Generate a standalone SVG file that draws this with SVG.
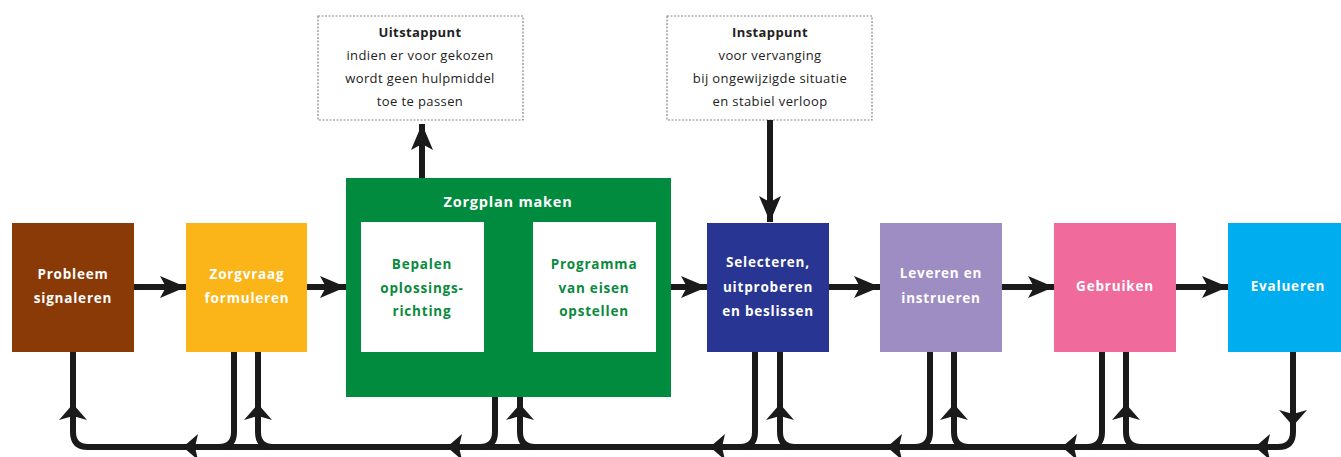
<svg xmlns="http://www.w3.org/2000/svg" width="1341" height="457" viewBox="0 0 1341 457">
<defs>
<style>
.lbl{font-family:"Open Sans","DejaVu Sans",sans-serif;font-weight:700;font-size:13.5px;fill:#fff;text-anchor:middle;letter-spacing:0.8px}
.glbl{font-family:"Open Sans","DejaVu Sans",sans-serif;font-weight:700;font-size:13.5px;fill:#0a8a3c;text-anchor:middle;letter-spacing:0.8px}
.note{font-family:"Open Sans","DejaVu Sans",sans-serif;font-size:13px;fill:#222;text-anchor:middle;letter-spacing:0.4px}
.noteb{font-family:"Open Sans","DejaVu Sans",sans-serif;font-size:13px;font-weight:700;fill:#222;text-anchor:middle;letter-spacing:0.4px}
.dash{fill:#fff;stroke:#888;stroke-width:1.2;stroke-dasharray:2 1.5}
.ln{fill:none;stroke:#1a1a1a;stroke-width:6}
.hd{fill:#1a1a1a}
</style>
<marker id="ah" markerUnits="userSpaceOnUse" markerWidth="26" markerHeight="22" refX="26" refY="11" orient="auto">
<path d="M0,0 L26,11 L0,22 L6,11 z" fill="#1a1a1a"/>
</marker>
</defs>

<g id="node-uitstappunt">
<rect class="dash" x="318" y="16" width="205" height="104"/>
<text class="noteb" x="420" y="37">Uitstappunt</text>
<text class="note" x="420" y="60">indien er voor gekozen</text>
<text class="note" x="420" y="83">wordt geen hulpmiddel</text>
<text class="note" x="420" y="106">toe te passen</text>
</g>

<g id="node-instappunt">
<rect class="dash" x="667" y="16" width="205" height="104"/>
<text class="noteb" x="770" y="37">Instappunt</text>
<text class="note" x="770" y="60">voor vervanging</text>
<text class="note" x="770" y="83">bij ongewijzigde situatie</text>
<text class="note" x="770" y="106">en stabiel verloop</text>
</g>

<g id="node-probleem">
<rect x="12" y="223" width="122" height="129" fill="#8a3a06"/>
<text class="lbl" x="73" y="279">Probleem</text>
<text class="lbl" x="73" y="303">signaleren</text>
</g>

<g id="node-zorgvraag">
<rect x="186" y="223" width="121" height="129" fill="#fbb519"/>
<text class="lbl" x="247" y="279">Zorgvraag</text>
<text class="lbl" x="247" y="303">formuleren</text>
</g>

<g id="node-zorgplan">
<rect x="346" y="178" width="325" height="219" fill="#008b3e"/>
<text class="lbl" x="508" y="207" style="font-size:14.5px">Zorgplan maken</text>
<rect x="361" y="222" width="123" height="130" fill="#fff"/>
<rect x="533" y="222" width="123" height="130" fill="#fff"/>
<text class="glbl" x="422" y="269">Bepalen</text>
<text class="glbl" x="422" y="293">oplossings-</text>
<text class="glbl" x="422" y="316">richting</text>
<text class="glbl" x="594" y="269">Programma</text>
<text class="glbl" x="594" y="293">van eisen</text>
<text class="glbl" x="594" y="316">opstellen</text>
</g>

<g id="node-selecteren">
<rect x="707" y="223" width="122" height="129" fill="#283592"/>
<text class="lbl" x="768" y="267">Selecteren,</text>
<text class="lbl" x="768" y="292">uitproberen</text>
<text class="lbl" x="768" y="316">en beslissen</text>
</g>

<g id="node-leveren">
<rect x="880" y="223" width="122" height="129" fill="#9d8dc3"/>
<text class="lbl" x="941" y="278">Leveren en</text>
<text class="lbl" x="941" y="303">instrueren</text>
</g>

<g id="node-gebruiken">
<rect x="1054" y="223" width="122" height="129" fill="#f06b9b"/>
<text class="lbl" x="1115" y="291">Gebruiken</text>
</g>

<g id="node-evalueren">
<rect x="1228" y="223" width="122" height="129" fill="#00aeef"/>
<text class="lbl" x="1288" y="291">Evalueren</text>
</g>

<g id="connectors">
<line class="ln" x1="134" y1="287" x2="186" y2="287" marker-end="url(#ah)" style="stroke-width:6"/>
<line class="ln" x1="307" y1="287" x2="346" y2="287" marker-end="url(#ah)"/>
<line class="ln" x1="671" y1="287" x2="707" y2="287" marker-end="url(#ah)"/>
<line class="ln" x1="829" y1="287" x2="880" y2="287" marker-end="url(#ah)"/>
<line class="ln" x1="1002" y1="287" x2="1054" y2="287" marker-end="url(#ah)"/>
<line class="ln" x1="1176" y1="287" x2="1228" y2="287" marker-end="url(#ah)"/>
<line class="ln" x1="422" y1="178" x2="422" y2="124" marker-end="url(#ah)"/>
<line class="ln" x1="770" y1="120" x2="770" y2="222" marker-end="url(#ah)"/>

<path class="ln" d="M73 352 V432 Q73 447 88 447 H1278 Q1293 447 1293 432 V352"/>
<path class="ln" d="M234 352 V432 Q234 447 219 447"/>
<path class="ln" d="M258 352 V432 Q258 447 273 447"/>
<path class="ln" d="M495 397 V432 Q495 447 480 447"/>
<path class="ln" d="M520 397 V432 Q520 447 535 447"/>
<path class="ln" d="M755 352 V432 Q755 447 740 447"/>
<path class="ln" d="M780 352 V432 Q780 447 795 447"/>
<path class="ln" d="M930 352 V432 Q930 447 915 447"/>
<path class="ln" d="M954 352 V432 Q954 447 969 447"/>
<path class="ln" d="M1102 352 V432 Q1102 447 1087 447"/>
<path class="ln" d="M1126 352 V432 Q1126 447 1141 447"/>

<polygon class="hd" points="73,404 87,420 73,416 59,420"/>
<polygon class="hd" points="258,404 272,420 258,416 244,420"/>
<polygon class="hd" points="520,404 534,420 520,416 506,420"/>
<polygon class="hd" points="780,404 794,420 780,416 766,420"/>
<polygon class="hd" points="954,404 968,420 954,416 940,420"/>
<polygon class="hd" points="1126,404 1140,420 1126,416 1112,420"/>
<polygon class="hd" points="1293,426 1307,410 1293,414 1279,410"/>

<polygon class="hd" points="183,447 198,434 195,447 198,460"/>
<polygon class="hd" points="447,447 462,434 459,447 462,460"/>
<polygon class="hd" points="710,447 725,434 722,447 725,460"/>
<polygon class="hd" points="887,447 902,434 899,447 902,460"/>
<polygon class="hd" points="1062,447 1077,434 1074,447 1077,460"/>
<polygon class="hd" points="1255,447 1270,434 1267,447 1270,460"/>
</g>
</svg>
